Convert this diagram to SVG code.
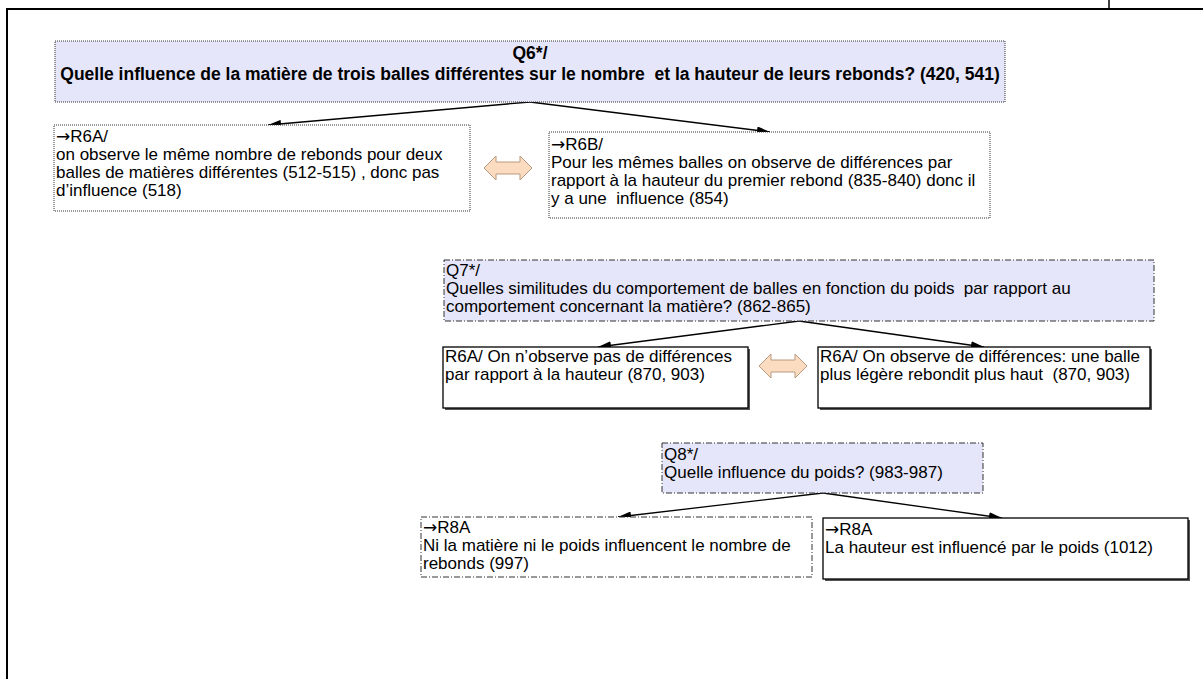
<svg xmlns="http://www.w3.org/2000/svg" width="1203" height="679" viewBox="0 0 1203 679">
<style>
text{font-family:"Liberation Sans",Arial,sans-serif;font-size:17px;fill:#000}
.b{font-weight:bold;font-size:17.5px}
.ar{font-family:"DejaVu Sans",sans-serif}
.q{fill:#e6e6fa;stroke:#333;stroke-width:1}
.dot{stroke-dasharray:1 1}
.dd{stroke-dasharray:6 2 1 2}
.r{fill:#fff;stroke:#333;stroke-width:1}
.s{fill:#fff;stroke:#000;stroke-width:1.3}
.sh{fill:#555}
.c{stroke:#000;stroke-width:1.3;fill:none;marker-end:url(#ah)}
.da{fill:#fbdcc0;stroke:#b89a80;stroke-width:1}
</style>
<defs>
<marker id="ah" viewBox="0 0 13 8" refX="13" refY="4" markerWidth="13" markerHeight="8" markerUnits="userSpaceOnUse" orient="auto">
<path d="M0,0 L13,4 L0,8 Z" fill="#000"/>
</marker>
</defs>
<g id="frame">
<path d="M6,9 H1203 M7,9 V679" stroke="#000" stroke-width="2" fill="none"/>
<path d="M1109,0 V9" stroke="#000" stroke-width="1.5"/>
</g>
<g id="connectors">
<path class="c" d="M530,102 L268,125"/>
<path class="c" d="M530,102 L770,132"/>
<path class="c" d="M799,321 L598,347"/>
<path class="c" d="M799,321 L984,347"/>
<path class="c" d="M823,493 L618,517"/>
<path class="c" d="M823,493 L1002,518"/>
<path class="da" d="M484,168 L496,156 V162 H520 V156 L532,168 L520,180 V174 H496 V180 Z"/>
<path class="da" d="M759,366 L771,354 V360 H795 V354 L807,366 L795,378 V372 H771 V378 Z"/>
</g>
<g id="Q6">
<rect class="q dot" x="55" y="41" width="950" height="61"/>
<text class="b" x="530" y="59" text-anchor="middle">Q6*/</text>
<text class="b" x="530" y="80" text-anchor="middle" xml:space="preserve">Quelle influence de la matière de trois balles différentes sur le nombre  et la hauteur de leurs rebonds? (420, 541)</text>
</g>
<g id="R6A">
<rect class="r dot" x="54" y="125" width="416" height="86"/>
<text x="56" y="142"><tspan class="ar">→</tspan>R6A/</text>
<text x="56" y="160">on observe le même nombre de rebonds pour deux</text>
<text x="56" y="178">balles de matières différentes (512-515) , donc pas</text>
<text x="56" y="196">d’influence (518)</text>
</g>
<g id="R6B">
<rect class="r dot" x="549" y="132" width="441" height="86"/>
<text x="551" y="150"><tspan class="ar">→</tspan>R6B/</text>
<text x="551" y="168">Pour les mêmes balles on observe de différences par</text>
<text x="551" y="186">rapport à la hauteur du premier rebond (835-840) donc il</text>
<text x="551" y="204" xml:space="preserve">y a une  influence (854)</text>
</g>
<g id="Q7">
<rect class="q dd" x="444" y="260" width="710" height="61"/>
<text x="446" y="276">Q7*/</text>
<text x="446" y="294" xml:space="preserve">Quelles similitudes du comportement de balles en fonction du poids  par rapport au</text>
<text x="446" y="312">comportement concernant la matière? (862-865)</text>
</g>
<g id="R7A">
<rect class="sh" x="445" y="349" width="305" height="61"/>
<rect class="s" x="443" y="347" width="305" height="61"/>
<text x="445" y="362">R6A/ On n’observe pas de différences</text>
<text x="445" y="380">par rapport à la hauteur (870, 903)</text>
</g>
<g id="R7B">
<rect class="sh" x="820" y="349" width="332" height="61"/>
<rect class="s" x="818" y="347" width="332" height="61"/>
<text x="820" y="362">R6A/ On observe de différences: une balle</text>
<text x="820" y="380" xml:space="preserve">plus légère rebondit plus haut  (870, 903)</text>
</g>
<g id="Q8">
<rect class="q dd" x="662" y="443" width="321" height="50"/>
<text x="664" y="460">Q8*/</text>
<text x="664" y="478">Quelle influence du poids? (983-987)</text>
</g>
<g id="R8A">
<rect class="r dd" x="421" y="517" width="391" height="60"/>
<text x="423" y="533"><tspan class="ar">→</tspan>R8A</text>
<text x="423" y="551">Ni la matière ni le poids influencent le nombre de</text>
<text x="423" y="569">rebonds (997)</text>
</g>
<g id="R8B">
<rect class="sh" x="825" y="520" width="365" height="61"/>
<rect class="s" x="823" y="518" width="365" height="61"/>
<text x="825" y="535"><tspan class="ar">→</tspan>R8A</text>
<text x="825" y="553">La hauteur est influencé par le poids (1012)</text>
</g>
</svg>
